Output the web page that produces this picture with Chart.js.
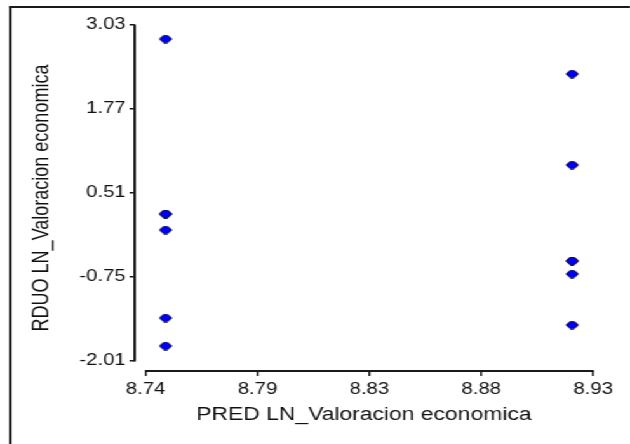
<!DOCTYPE html>
<html>
<head>
<meta charset="utf-8">
<title>Residuos vs pronosticados</title>
<script src="https://cdn.jsdelivr.net/npm/chart.js@4.4.1/dist/chart.umd.min.js"></script>
<style>
    html, body { margin: 0; padding: 0; background: #fff; overflow: hidden; }
    /* the source picture is stretched sideways, so draw narrow and widen it */
    #stretch { position: absolute; left: 0; top: 0; width: 496px; height: 444px; transform: scaleX(1.2702); transform-origin: 0 0; }
    #frame { position: absolute; left: 7px; top: 6px; right: 0; bottom: 0; border-top: 2px solid #1a1a1a; border-left: 2px solid #1a1a1a; }
    canvas { position: absolute; left: 0; top: 0; }
</style>
</head>
<body>
<div id="stretch">
    <div id="frame"></div>
    <canvas id="residChart" width="496" height="444"></canvas>
</div>
<script>
// Data
const predValues = [8.7485, 8.7485, 8.7485, 8.7485, 8.7485, 8.7485,
                    8.9211, 8.9211, 8.9211, 8.9211, 8.9211, 8.9211];
const residValues = [2.82, 0.195, 0.195, -0.045, -1.365, -1.785,
                     2.295, 0.93, -0.51, -0.51, -0.705, -1.47];

// Axis ticks
const xTicks = [8.74, 8.7875, 8.835, 8.8825, 8.93];
const xTickLabels = ['8.74', '8.79', '8.83', '8.88', '8.93'];
const yTicks = [3.03, 1.77, 0.51, -0.75, -2.01];
const yTickLabels = ['3.03', '1.77', '0.51', '-0.75', '-2.01'];

const xTitle = 'PRED LN_Valoracion economica';
const yTitle = 'RDUO LN_Valoracion economica';

const FONT = "Arial, 'Liberation Sans', sans-serif";

// Marker: blue lozenge with a dark outline
function makeMarker() {
    const c = document.createElement('canvas');
    c.width = 11;
    c.height = 9;
    const g = c.getContext('2d');
    g.beginPath();
    g.moveTo(0.6, 4.5);
    g.lineTo(4.0, 0.8);
    g.lineTo(7.0, 0.8);
    g.lineTo(10.4, 4.5);
    g.lineTo(7.0, 8.2);
    g.lineTo(4.0, 8.2);
    g.closePath();
    g.fillStyle = '#0000ff';
    g.fill();
    g.lineWidth = 1;
    g.strokeStyle = '#101030';
    g.stroke();
    return c;
}

// Axis lines stop at the first and last tick, apart from each other
const detachedAxes = {
    id: 'detachedAxes',
    beforeDatasetsDraw(chart) {
        const { ctx, chartArea, scales: { x, y } } = chart;
        ctx.save();
        ctx.strokeStyle = '#1a1a1a';
        ctx.lineWidth = 2;
        ctx.beginPath();
        ctx.moveTo(chartArea.left, y.getPixelForValue(yTicks[0]) - 0.5);
        ctx.lineTo(chartArea.left, y.getPixelForValue(yTicks[yTicks.length - 1]) + 0.5);
        ctx.moveTo(x.getPixelForValue(xTicks[0]) - 0.5, chartArea.bottom);
        ctx.lineTo(x.getPixelForValue(xTicks[xTicks.length - 1]) + 0.5, chartArea.bottom);
        ctx.stroke();
        ctx.restore();
    }
};

const ctx = document.getElementById('residChart').getContext('2d');

window.residChart = new Chart(ctx, {
    type: 'scatter',
    data: {
        datasets: [{
            label: 'Residuos',
            data: predValues.map((p, i) => ({ x: p, y: residValues[i] })),
            pointStyle: makeMarker(),
            pointRadius: 5,
            pointHoverRadius: 5
        }]
    },
    options: {
        responsive: false,
        animation: false,
        events: [],
        layout: {
            padding: { left: 0, right: 29, top: 25, bottom: 0 }
        },
        plugins: {
            legend: { display: false },
            tooltip: { enabled: false }
        },
        scales: {
            x: {
                type: 'linear',
                min: 8.73536,
                max: 8.93,
                afterBuildTicks: s => { s.ticks = xTicks.map(v => ({ value: v })); },
                afterFit: s => { s.height = 73; },
                border: { display: false },
                grid: {
                    drawOnChartArea: false,
                    drawTicks: true,
                    tickLength: 5,
                    color: '#1a1a1a',
                    lineWidth: 1.5
                },
                ticks: {
                    autoSkip: false,
                    maxRotation: 0,
                    padding: 4,
                    color: '#111',
                    font: { family: FONT, size: 16 },
                    callback: (v, i) => xTickLabels[i]
                },
                title: {
                    display: true,
                    text: xTitle,
                    color: '#111',
                    font: { family: FONT, size: 18 },
                    padding: { top: 0, bottom: 18 }
                }
            },
            y: {
                type: 'linear',
                min: -2.16,
                max: 3.03,
                afterBuildTicks: s => { s.ticks = yTicks.map(v => ({ value: v })); },
                afterFit: s => { s.width = 106; },
                border: { display: false },
                grid: {
                    drawOnChartArea: false,
                    drawTicks: true,
                    tickLength: 4,
                    color: '#1a1a1a',
                    lineWidth: 1.5
                },
                ticks: {
                    autoSkip: false,
                    padding: 3,
                    color: '#111',
                    font: { family: FONT, size: 16 },
                    callback: (v, i) => yTickLabels[i]
                },
                title: {
                    display: true,
                    text: yTitle,
                    color: '#111',
                    font: { family: FONT, size: 18 },
                    padding: { top: 22, bottom: 0 }
                }
            }
        }
    },
    plugins: [detachedAxes]
});
</script>
</body>
</html>
